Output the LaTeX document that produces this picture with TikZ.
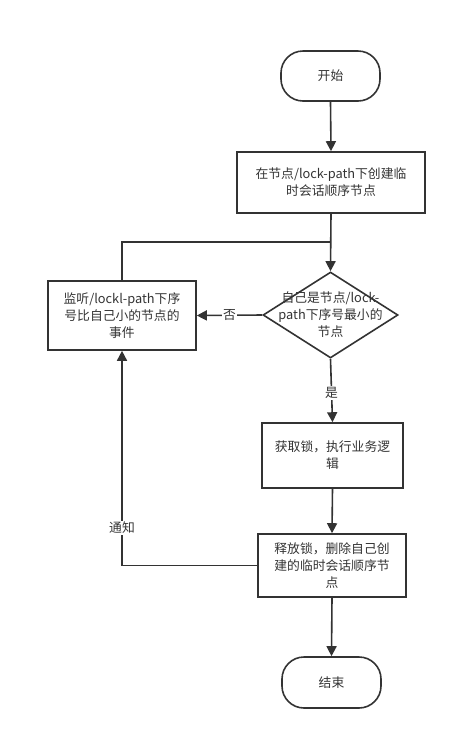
\documentclass[tikz,border=0pt]{standalone}
\usepackage{fontspec}
\newfontfamily\cjk{Noto Sans CJK SC}
\usetikzlibrary{arrows.meta,shapes.geometric}
\definecolor{ln}{HTML}{333333}
\begin{document}
\begin{tikzpicture}[x=1pt,y=-1pt,
  every node/.style={font=\cjk\fontsize{12.8}{17}\selectfont, text=ln},
  box/.style={draw=ln, line width=1.6pt, rectangle, inner sep=0pt, align=center},
  term/.style={box, rounded corners=22pt},
  dia/.style={draw=ln, line width=1.6pt, diamond, inner sep=0pt},
  conn/.style={draw=ln, line width=1.6pt},
  arr/.style={conn, -{Triangle[length=10pt,width=10pt]}},
  lbl/.style={fill=white, inner sep=1pt}]
\useasboundingbox (0,0) rectangle (455,740);
\node[term, minimum width=99pt, minimum height=50pt] (start) at (330.5,76) {开始};
\node[box, minimum width=188pt, minimum height=61pt] (b1) at (331,182.5) {在节点/lock-path下创建临\\时会话顺序节点};
\node[dia, minimum width=135pt, minimum height=86pt] (d) at (330.5,315) {};
\node[align=center, inner sep=0pt] (dt) at (d.center) {自己是节点/lock-\\path下序号最小的\\节点};
\node[box, minimum width=148pt, minimum height=69pt] (ls) at (122,315.5) {监听/lockl-path下序\\号比自己小的节点的\\事件};
\node[box, minimum width=141pt, minimum height=65pt] (acq) at (332.5,455.5) {获取锁，执行业务逻\\辑};
\node[box, minimum width=148pt, minimum height=63pt] (rel) at (332,565.5) {释放锁，删除自己创\\建的临时会话顺序节\\点};
\node[term, minimum width=99pt, minimum height=51pt] (end) at (331.5,682.5) {结束};
\coordinate (j) at (330.5,242);
\draw[arr] (start.south) -- (b1.north);
\draw[arr] (b1.south) -- (d.north);
\draw[conn] (ls.north) |- (j);
\draw[arr] (d.west) -- node[lbl, pos=0.5] (no) {否} (ls.east);
\draw[arr] (d.south) -- node[lbl, pos=0.54] (yes) {是} (acq.north);
\draw[arr] (acq.south) -- (rel.north);
\draw[arr] (rel.west) -| node[lbl, pos=0.588] (ntf) {通知} (ls.south);
\draw[arr] (rel.south) -- (end.north);
\end{tikzpicture}
\end{document}
